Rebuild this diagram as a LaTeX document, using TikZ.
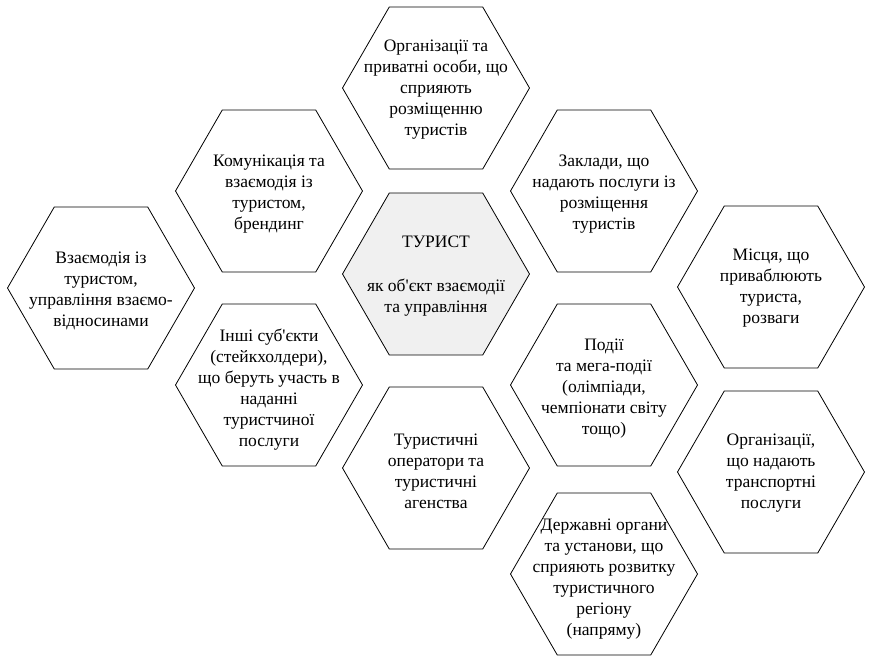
\documentclass[tikz,border=0pt]{standalone}
\usepackage{fontspec}
\setmainfont{Liberation Serif}
\newfontfamily\tnr{Liberation Serif}
\usetikzlibrary{shapes.geometric}
\begin{document}
\begin{tikzpicture}[x=1pt,y=1pt,
  hex/.style={regular polygon, regular polygon sides=6, minimum size=187pt,
    inner sep=0pt, draw=black, line width=0.8pt, fill=white},
  hexfill/.style={hex, fill=black!6},
  txt/.style={align=center, inner sep=0pt, font=\tnr\fontsize{17.5}{21}\selectfont}]
\useasboundingbox (0,0) rectangle (870,-656);
% column 0
\node[hex] (h0) at (101,-288) {};
% column 1
\node[hex] (h1a) at (269,-191) {};
\node[hex] (h1b) at (269,-385) {};
% column 2
\node[hex] (h2a) at (436,-88) {};
\node[hexfill] (h2b) at (436,-274) {};
\node[hex] (h2c) at (436,-468) {};
% column 3
\node[hex] (h3a) at (604,-191) {};
\node[hex] (h3b) at (604,-385) {};
\node[hex] (h3c) at (604,-574) {};
% column 4
\node[hex] (h4a) at (771,-287) {};
\node[hex] (h4b) at (771,-472) {};
% texts
\node[txt] (t2a) at ([yshift=-2pt]h2a.center) {Організації та\\приватні особи, що\\сприяють\\розміщенню\\туристів};
\node[txt] (t1a) at ([yshift=-3pt]h1a.center) {Комунікація та\\взаємодія із\\туристом,\\брендинг};
\node[txt] (t0) at ([yshift=-3pt]h0.center) {Взаємодія із\\туристом,\\управління взаємо-\\відносинами};
\node[txt] (t2b) at ([yshift=-2pt]h2b.center) {ТУРИСТ\\[23pt]як об\textquotesingle єкт взаємодії\\та управління};
\node[txt] (t1b) at ([yshift=-5pt]h1b.center) {Інші суб\textquotesingle єкти\\(стейкхолдери),\\що беруть участь в\\наданні\\туристчиної\\послуги};
\node[txt] (t2c) at ([yshift=-3pt]h2c.center) {Туристичні\\оператори та\\туристичні\\агенства};
\node[txt] (t3a) at ([yshift=-3pt]h3a.center) {Заклади, що\\надають послуги із\\розміщення\\туристів};
\node[txt] (t3b) at ([yshift=-4pt]h3b.center) {Події\\та мега-події\\(олімпіади,\\чемпіонати світу\\тощо)};
\node[txt] (t3c) at ([yshift=-5pt]h3c.center) {Державні органи\\та установи, що\\сприяють розвитку\\туристичного\\регіону\\(напряму)};
\node[txt] (t4a) at ([yshift=-1pt]h4a.center) {Місця, що\\приваблюють\\туриста,\\розваги};
\node[txt] (t4b) at ([yshift=-1pt]h4b.center) {Організації,\\що надають\\транспортні\\послуги};
\end{tikzpicture}
\end{document}
